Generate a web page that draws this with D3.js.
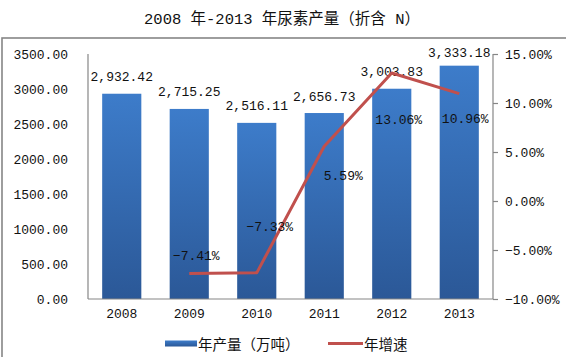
<!DOCTYPE html>
<html><head><meta charset="utf-8">
<script src="https://cdn.jsdelivr.net/npm/d3@7"></script>
<style>
html,body{margin:0;padding:0;background:#fff;}
svg{display:block;}
text{font-family:"Liberation Mono","Noto Sans CJK SC",monospace;fill:#111;}
</style></head>
<body>
<svg id="chart" width="566" height="357"></svg>
<script>
const years = ["2008","2009","2010","2011","2012","2013"];
const output = [2932.42, 2715.25, 2516.11, 2656.73, 3003.83, 3333.18];
const growth = [null, -7.41, -7.33, 5.59, 13.06, 10.96];
const leftTicks = [0, 500, 1000, 1500, 2000, 2500, 3000, 3500];
const rightTicks = [-10, -5, 0, 5, 10, 15];
const titleText = "2008 年-2013 年尿素产量（折含 N）";
const legendBar = "年产量（万吨）";
const legendLine = "年增速";
// manual label offsets (px) for growth labels, as placed in the original
const growthLabelOffset = [null, [7,-17], [13,-45], [19,30], [7,47], [6,26]];

const svg = d3.select("#chart");
const defs = svg.append("defs");
const grad = defs.append("linearGradient").attr("id","barGrad").attr("x1",0).attr("y1",0).attr("x2",0).attr("y2",1);
grad.append("stop").attr("offset","0%").attr("stop-color","#3d7cca");
grad.append("stop").attr("offset","100%").attr("stop-color","#2b5897");

// outer border
svg.append("rect").attr("x",2).attr("y",38).attr("width",600).attr("height",400)
  .attr("fill","none").attr("stroke","#868686").attr("stroke-width",1.6);

// title
svg.append("text").attr("x",282).attr("y",20).attr("text-anchor","middle")
  .attr("dominant-baseline","central").style("font-size","15.5px").text(titleText);

const pL = 88, pR = 493, pT = 54, pB = 299;
const x = d3.scaleBand().domain(years).range([pL,pR]).paddingInner(0.42).paddingOuter(0.21);
const y0 = d3.scaleLinear().domain([0,3500]).range([pB,pT]);
const y1 = d3.scaleLinear().domain([-10,15]).range([pB,pT]);

// bars
svg.append("g").selectAll("rect").data(output).join("rect")
  .attr("x",(d,i)=>x(years[i])).attr("width",x.bandwidth())
  .attr("y",d=>y0(d)).attr("height",d=>pB-y0(d))
  .attr("fill","url(#barGrad)");

// axes
const axisColor = "#868686";
const gl = svg.append("g").attr("transform",`translate(${pL},0)`)
  .call(d3.axisLeft(y0).tickValues(leftTicks).tickSize(0).tickPadding(20).tickFormat(d3.format(".2f")));
const gr = svg.append("g").attr("transform",`translate(${pR},0)`)
  .call(d3.axisRight(y1).tickValues(rightTicks).tickSize(5).tickPadding(7).tickFormat(d=>d3.format(".2f")(d)+"%"));
const gb = svg.append("g").attr("transform",`translate(0,${pB})`)
  .call(d3.axisBottom(x).tickSize(0).tickPadding(10));
[gl,gr,gb].forEach(g=>{
  g.select(".domain").attr("stroke",axisColor).attr("stroke-width",1.2);
  g.selectAll(".tick line").attr("stroke",axisColor).attr("stroke-width",1.2);
  g.selectAll("text").attr("fill","#111").style("font-size","13px")
    .style("font-family","\"Liberation Mono\",monospace");
});
gl.select(".domain").attr("d",`M0,${pT}V${pB}`);
gr.select(".domain").attr("d",`M0,${pT}V${pB}`);
gb.select(".domain").attr("d",`M${pL},0H${pR}`);

// bar value labels (kept inside the plot area)
svg.append("g").selectAll("text").data(output).join("text")
  .attr("x",(d,i)=>x(years[i])+x.bandwidth()/2)
  .attr("y",d=>Math.max(y0(d)-16, pT-1)).attr("text-anchor","middle").attr("dominant-baseline","central")
  .style("font-size","13px").text(d=>d3.format(",.2f")(d));

// growth line
const pts = growth.map((g,i)=>({g,i})).filter(p=>p.g!==null);
const line = d3.line().x(p=>x(years[p.i])+x.bandwidth()/2).y(p=>y1(p.g));
svg.append("path").datum(pts).attr("d",line).attr("fill","none")
  .attr("stroke","#c0504d").attr("stroke-width",3).attr("stroke-linejoin","round");

// growth labels
svg.append("g").selectAll("text").data(pts).join("text")
  .attr("x",p=>x(years[p.i])+x.bandwidth()/2+growthLabelOffset[p.i][0])
  .attr("y",p=>y1(p.g)+growthLabelOffset[p.i][1])
  .attr("text-anchor","middle").attr("dominant-baseline","central")
  .style("font-size","13px").text(p=>d3.format(".2f")(p.g)+"%");

// legend
const lg = svg.append("g");
lg.append("rect").attr("x",165).attr("y",340.5).attr("width",32).attr("height",6).attr("fill","url(#barGrad)");
lg.append("text").attr("x",198).attr("y",343.5).attr("dominant-baseline","central")
  .style("font-size","14.5px").style("font-family","\"Noto Sans CJK SC\"").text(legendBar);
lg.append("line").attr("x1",328).attr("x2",363).attr("y1",343.5).attr("y2",343.5)
  .attr("stroke","#c0504d").attr("stroke-width",3);
lg.append("text").attr("x",364).attr("y",343.5).attr("dominant-baseline","central")
  .style("font-size","14.5px").style("font-family","\"Noto Sans CJK SC\"").text(legendLine);
</script>
</body></html>
